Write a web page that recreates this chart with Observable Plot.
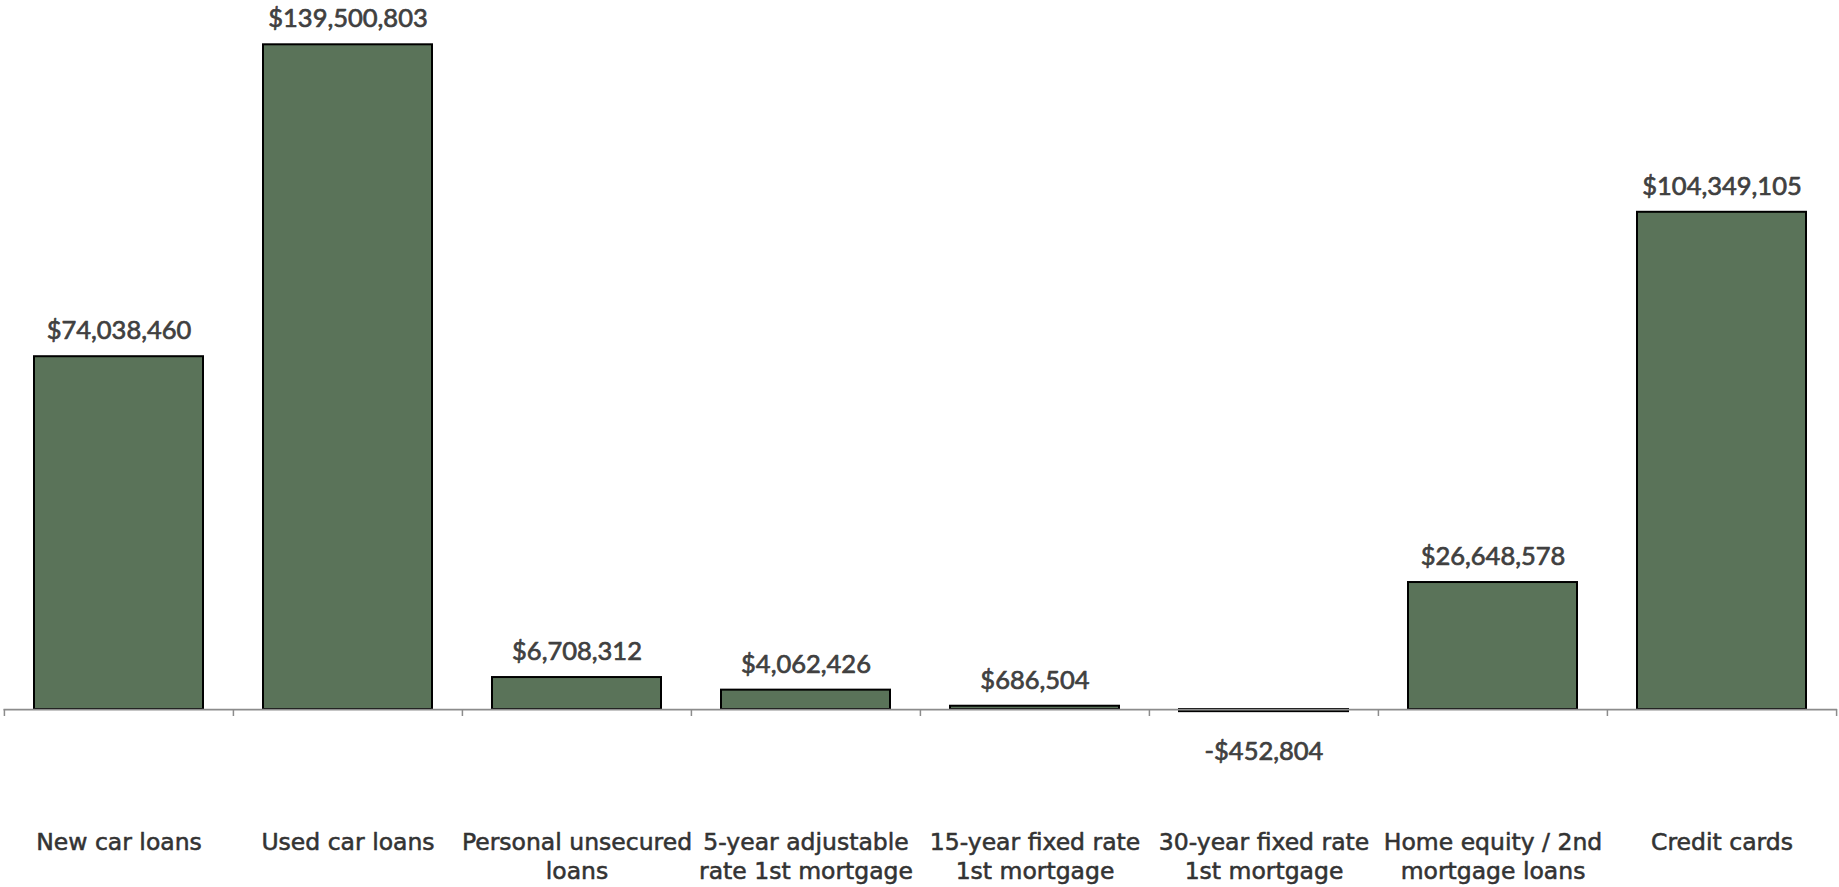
<!DOCTYPE html>
<html>
<head>
<meta charset="utf-8">
<script src="https://cdn.jsdelivr.net/npm/d3@7"></script>
<script src="https://cdn.jsdelivr.net/npm/@observablehq/plot@0.6"></script>
<style>
  html, body { margin: 0; padding: 0; background: #ffffff; overflow: hidden; }
  #chart svg { display: block; }
</style>
</head>
<body>
<div id="chart"></div>
<script>
// Net change in balances by loan type
const categories = [
  "New car loans",
  "Used car loans",
  "Personal unsecured loans",
  "5-year adjustable rate 1st mortgage",
  "15-year fixed rate 1st mortgage",
  "30-year fixed rate 1st mortgage",
  "Home equity / 2nd mortgage loans",
  "Credit cards"
];
const tickLabels = [
  "New car loans",
  "Used car loans",
  "Personal unsecured\nloans",
  "5-year adjustable\nrate 1st mortgage",
  "15-year fixed rate\n1st mortgage",
  "30-year fixed rate\n1st mortgage",
  "Home equity / 2nd\nmortgage loans",
  "Credit cards"
];
const values = [74038460, 139500803, 6708312, 4062426, 686504, -452804, 26648578, 104349105];

const rows = categories.map((category, i) => ({category, value: values[i], tick: tickLabels[i]}));

const width = 1839;
const height = 887;
const marginLeft = 3.5;
const marginRight = 2;
const step = (width - marginLeft - marginRight) / categories.length;

const money = (v) => (v < 0 ? "-$" : "$") + d3.format(",")(Math.abs(v));
const labelFont = "Lato, 'Open Sans', sans-serif";
const axisFont = "'DejaVu Sans', Verdana, sans-serif";
const axisGray = "#8c8c8c";
const labelStyle = {
  fontSize: 25.5,
  fontFamily: labelFont,
  fill: "#404040",
  stroke: "#404040",
  strokeWidth: 0.7,
  paintOrder: "stroke"
};

const chart = Plot.plot({
  width,
  height,
  marginTop: 44.3,
  marginBottom: 178,
  marginLeft,
  marginRight,
  style: {background: "#ffffff"},
  x: {domain: categories, paddingInner: 0.26, paddingOuter: 0.13, axis: null},
  y: {domain: [0, d3.max(values)], axis: null},
  marks: [
    Plot.barY(rows, {
      x: "category",
      y: "value",
      fill: "#5a7359",
      stroke: "#000000",
      strokeWidth: 2
    }),
    // category axis line
    Plot.ruleY([0], {stroke: axisGray, strokeWidth: 1.75}),
    // tick marks between categories
    Plot.ruleX(categories, {
      x: (d) => d,
      y1: 0,
      y2: 0,
      insetBottom: -7,
      dx: -step / 2,
      stroke: axisGray,
      strokeWidth: 1.5
    }),
    Plot.ruleX(categories.slice(-1), {
      x: (d) => d,
      y1: 0,
      y2: 0,
      insetBottom: -7,
      dx: step / 2,
      stroke: axisGray,
      strokeWidth: 1.5
    }),
    // value labels
    Plot.text(rows.filter((d) => d.value >= 0), {
      x: "category",
      y: "value",
      text: (d) => money(d.value),
      lineAnchor: "bottom",
      dy: -17.5,
      ...labelStyle
    }),
    Plot.text(rows.filter((d) => d.value < 0), {
      x: "category",
      y: "value",
      text: (d) => money(d.value),
      lineAnchor: "top",
      dy: 30,
      ...labelStyle
    }),
    // category labels under the axis
    Plot.text(rows, {
      x: "category",
      frameAnchor: "bottom",
      text: "tick",
      lineAnchor: "top",
      dy: 120.5,
      lineHeight: 1.22,
      fontSize: 23.5,
      fontFamily: axisFont,
      fill: "#333333",
      stroke: "#333333",
      strokeWidth: 0.55,
      paintOrder: "stroke"
    })
  ]
});

document.getElementById("chart").appendChild(chart);
</script>
</body>
</html>
